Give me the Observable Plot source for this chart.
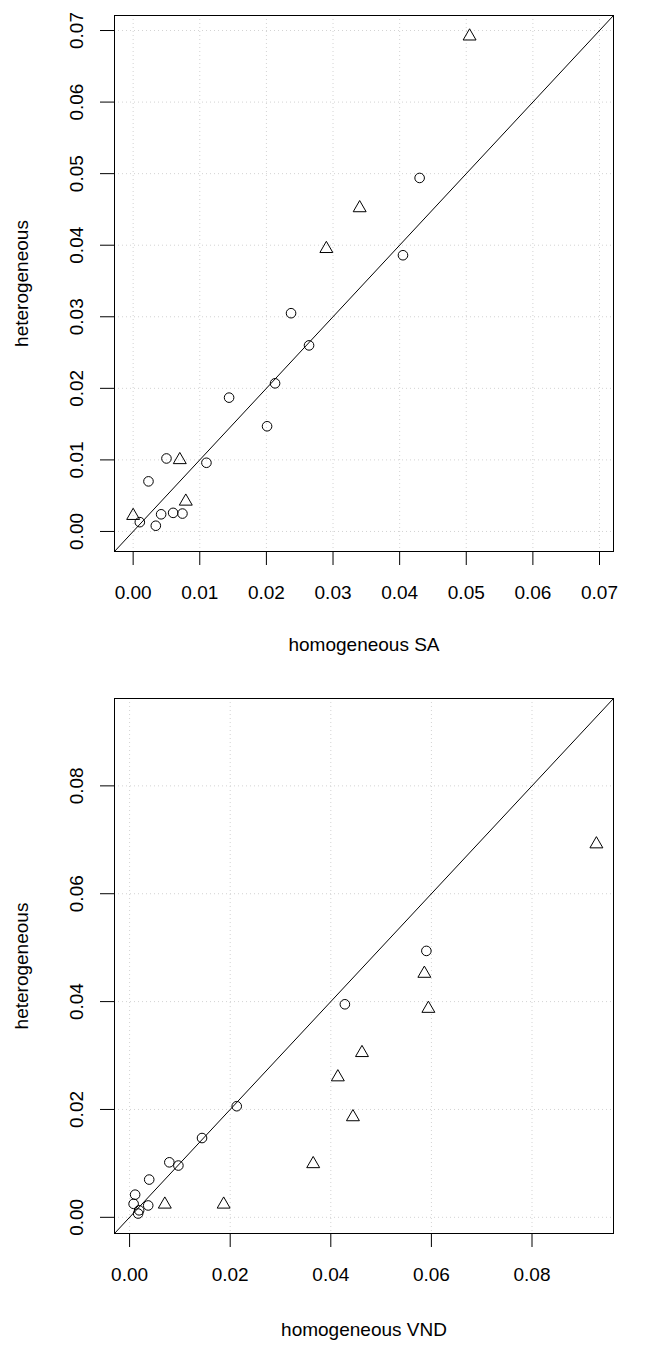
<!DOCTYPE html>
<html>
<head>
<meta charset="utf-8">
<script src="https://cdn.jsdelivr.net/npm/d3@7"></script>
<script src="https://cdn.jsdelivr.net/npm/@observablehq/plot@0.6"></script>
<style>
  html, body { margin: 0; padding: 0; background: #fff; }
  #chart svg { display: block; }
</style>
</head>
<body>
<div id="chart"></div>
<script>
// ---- Panel 1: homogeneous SA vs heterogeneous ----
const saDomain = [-0.0028, 0.0721];
const saTicks = [0.00, 0.01, 0.02, 0.03, 0.04, 0.05, 0.06, 0.07];
const saCircleX = [0.0430, 0.0405, 0.0237, 0.0264, 0.0213, 0.0144, 0.0201, 0.0050, 0.0110, 0.0023, 0.0042, 0.0060, 0.0074, 0.0010, 0.0034];
const saCircleY = [0.0494, 0.0386, 0.0305, 0.0260, 0.0207, 0.0187, 0.0147, 0.0102, 0.0096, 0.0070, 0.0024, 0.0026, 0.0025, 0.0013, 0.0008];
const saTriangleX = [0.0505, 0.0340, 0.0290, 0.0070, 0.0079, 0.0000];
const saTriangleY = [0.0692, 0.0452, 0.0395, 0.0100, 0.0042, 0.0022];

// ---- Panel 2: homogeneous VND vs heterogeneous ----
const vndDomain = [-0.0030, 0.0962];
const vndTicks = [0.00, 0.02, 0.04, 0.06, 0.08];
const vndCircleX = [0.0590, 0.0428, 0.0213, 0.0144, 0.0079, 0.0097, 0.0039, 0.0011, 0.0008, 0.0037, 0.0019, 0.0017];
const vndCircleY = [0.0494, 0.0395, 0.0206, 0.0147, 0.0102, 0.0096, 0.0070, 0.0042, 0.0025, 0.0022, 0.0013, 0.0007];
const vndTriangleX = [0.0928, 0.0586, 0.0594, 0.0462, 0.0414, 0.0444, 0.0365, 0.0070, 0.0187];
const vndTriangleY = [0.0692, 0.0452, 0.0387, 0.0305, 0.0260, 0.0186, 0.0099, 0.0024, 0.0024];

const yLabel = "heterogeneous";
const saLabel = "homogeneous SA";
const vndLabel = "homogeneous VND";

function zipXY(xs, ys) { return xs.map((x, i) => ({x, y: ys[i]})); }

function panel({domain, ticks, circleX, circleY, triX, triY, xLabel, height, marginTop, marginBottom, xLabelDy}) {
  const fmt = d3.format(".2f");
  const diag = domain.map(v => ({x: v, y: v}));
  return Plot.plot({
    width: 659,
    height,
    marginLeft: 114,
    marginRight: 46,
    marginTop,
    marginBottom,
    style: {fontFamily: "'Liberation Sans', Arial, sans-serif", fontSize: "19px", background: "#fff", color: "#000"},
    x: {domain, nice: false},
    y: {domain, nice: false},
    marks: [
      Plot.gridX(ticks, {stroke: "#d3d3d3", strokeOpacity: 1, strokeDasharray: "1,3"}),
      Plot.gridY(ticks, {stroke: "#d3d3d3", strokeOpacity: 1, strokeDasharray: "1,3"}),
      Plot.line(diag, {x: "x", y: "y", stroke: "#000", strokeWidth: 1}),
      Plot.dot(zipXY(circleX, circleY), {x: "x", y: "y", symbol: "circle", r: 4.8, stroke: "#000", fill: "none", strokeWidth: 1}),
      Plot.dot(zipXY(triX, triY), {x: "x", y: "y", symbol: "triangle", r: 4.8, stroke: "#000", fill: "none", strokeWidth: 1}),
      Plot.frame({stroke: "#000", strokeWidth: 1}),
      Plot.axisX(ticks, {tickSize: 14, tickPadding: 20, tickFormat: fmt, stroke: "#000", label: null}),
      Plot.axisY(ticks, {tickSize: 14, tickPadding: 18, tickRotate: -90, tickFormat: fmt, stroke: "#000", label: null}),
      Plot.text([xLabel], {text: d => d, frameAnchor: "bottom", dy: xLabelDy, textAnchor: "middle", lineAnchor: "middle", fill: "#000"}),
      Plot.text([yLabel], {text: d => d, frameAnchor: "left", dx: -93, rotate: -90, textAnchor: "middle", lineAnchor: "middle", fill: "#000"})
    ]
  });
}

const chart = document.getElementById("chart");
chart.appendChild(panel({domain: saDomain, ticks: saTicks, circleX: saCircleX, circleY: saCircleY, triX: saTriangleX, triY: saTriangleY, xLabel: saLabel, height: 672, marginTop: 15, marginBottom: 121, xLabelDy: 93.5}));
chart.appendChild(panel({domain: vndDomain, ticks: vndTicks, circleX: vndCircleX, circleY: vndCircleY, triX: vndTriangleX, triY: vndTriangleY, xLabel: vndLabel, height: 673, marginTop: 26, marginBottom: 112, xLabelDy: 96}));
</script>
</body>
</html>
